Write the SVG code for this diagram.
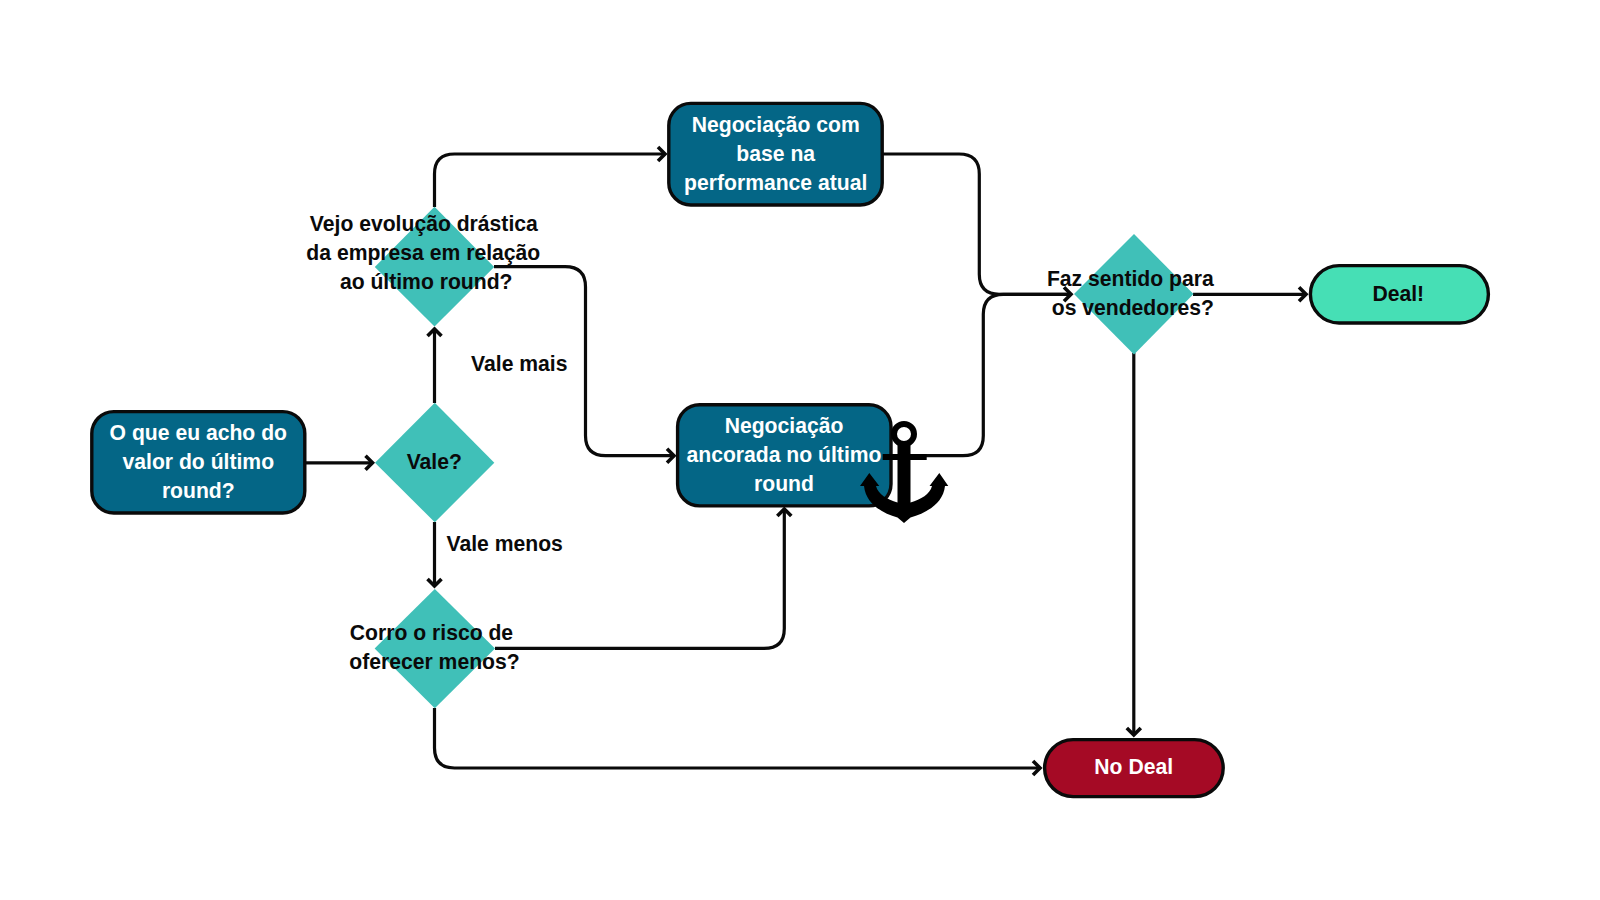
<svg xmlns="http://www.w3.org/2000/svg" width="1600" height="900" viewBox="0 0 1600 900">
<style>
text{font-family:"Liberation Sans",Arial,sans-serif;font-weight:700;font-size:21.15px;text-anchor:middle}
.w{fill:#fff}.k{fill:#0a0a0a}
.box{fill:#046686;stroke:#0a0a0a;stroke-width:3.4}
.dia{fill:#40c0b8}
.con{fill:none;stroke:#0a0a0a;stroke-width:3.2}
.arr{marker-end:url(#ah)}
</style>
<defs>
<marker id="ah" markerUnits="userSpaceOnUse" markerWidth="20" markerHeight="20" refX="15" refY="10" orient="auto" overflow="visible">
<path d="M8,3L15,10L8,17" fill="none" stroke="#0a0a0a" stroke-width="3.6"/>
</marker>
</defs>
<rect width="1600" height="900" fill="#fff"/>
<g id="connectors">
<path class="con arr" d="M306,462.8H372.5"/>
<path class="con arr" d="M434.5,403V329"/>
<path class="con arr" d="M434.5,522V586"/>
<path class="con arr" d="M434.5,207V174Q434.5,154 454.5,154H665"/>
<path class="con arr" d="M494,266.7H565Q585.5,266.7 585.5,287V435.5Q585.5,455.7 605.5,455.7H674"/>
<path class="con arr" d="M495,648.4H764Q784.3,648.4 784.3,628.4V509"/>
<path class="con arr" d="M434.5,708V748Q434.5,768 454.5,768H1040"/>
<path class="con" d="M883,154H959Q979.3,154 979.3,174V274.3Q979.3,294.3 999.3,294.3H1071"/>
<path class="con arr" d="M891,455.7H963Q983.3,455.7 983.3,435.7V314.3Q983.3,294.3 1003.3,294.3H1071"/>
<path class="con arr" d="M1193,294.3H1306"/>
<path class="con arr" d="M1133.8,353V735"/>
</g>
<g id="n-start"><rect class="box" x="91.8" y="411.6" width="213" height="101.4" rx="22"/>
<text class="w" x="198.3" y="440.2">O que eu acho do</text><text class="w" x="198.3" y="469.2">valor do último</text><text class="w" x="198.3" y="498.3">round?</text></g>
<g id="n-vale"><polygon class="dia" points="434.8,402.8 494.3,462.7 434.8,522.3 375,462.7"/>
<text class="k" x="434.3" y="469">Vale?</text></g>
<g id="n-evolucao"><polygon class="dia" points="434.5,206.8 494.2,267 434.5,326.5 374.8,267"/>
<text class="k" x="423.8" y="230.7">Vejo evolução drástica</text><text class="k" x="423.3" y="260">da empresa em relação</text><text class="k" x="426.2" y="289.2">ao último round?</text></g>
<g id="n-risco"><polygon class="dia" points="434.8,589 495,648.6 434.8,708.3 374.6,648.6"/>
<text class="k" x="431.5" y="640">Corro o risco de</text><text class="k" x="434.5" y="669">oferecer menos?</text></g>
<g id="n-performance"><rect class="box" x="668.8" y="103.4" width="213.4" height="101.6" rx="22"/>
<text class="w" x="775.7" y="131.7">Negociação com</text><text class="w" x="775.7" y="160.7">base na</text><text class="w" x="775.7" y="189.8">performance atual</text></g>
<g id="n-ancorada"><rect class="box" x="677.6" y="404.7" width="213.4" height="101.2" rx="22"/>
<text class="w" x="784" y="432.7">Negociação</text><text class="w" x="784" y="461.7">ancorada no último</text><text class="w" x="784" y="490.7">round</text></g>
<g id="n-anchor">
<circle cx="904" cy="434" r="10" fill="none" stroke="#000" stroke-width="6"/>
<rect x="897.5" y="444" width="13" height="73" fill="#000"/>
<rect x="882.7" y="454" width="44" height="6" fill="#000"/>
<path fill="#000" d="M869.3,473L879.3,486H876C878,494 887,499.5 897.5,502.5L910.5,502.5C921,499.5 930,494 932,486H929.5L939.3,473L948.3,486H945C943,504 926,513 910.5,517.5L904,523L897.5,517.5C882,513 866,504 864,486H860Z"/>
</g>
<g id="n-faz"><polygon class="dia" points="1134,234 1193.5,294 1134,354.5 1074,294"/>
<text class="k" x="1130.3" y="285.7">Faz sentido para</text><text class="k" x="1132.8" y="315">os vendedores?</text></g>
<g id="n-deal"><rect x="1310.4" y="265.6" width="178" height="57.4" rx="28.7" fill="#46dfb5" stroke="#0a0a0a" stroke-width="3.4"/>
<text class="k" x="1398.3" y="300.7">Deal!</text></g>
<g id="n-nodeal"><rect x="1044.6" y="739.6" width="178.6" height="57" rx="28.5" fill="#a50a25" stroke="#0a0a0a" stroke-width="3.4"/>
<text class="w" x="1133.7" y="774">No Deal</text></g>
<g id="labels">
<text class="k" x="519.3" y="370.6">Vale mais</text>
<text class="k" x="504.7" y="550.7">Vale menos</text>
</g>
</svg>
